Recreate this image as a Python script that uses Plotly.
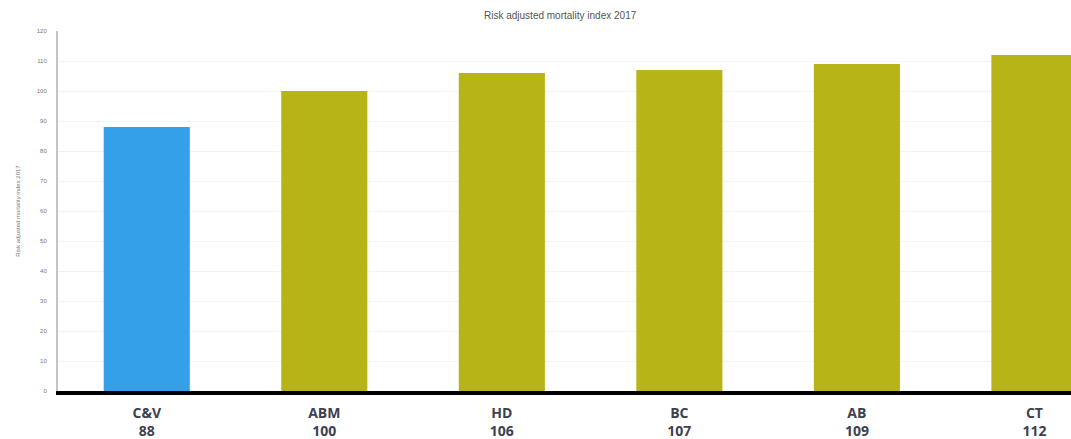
import plotly.graph_objects as go

categories = ["C&V", "ABM", "HD", "BC", "AB", "CT"]
values = [88, 100, 106, 107, 109, 112]
colors = ["#34a0ea", "#b6b416", "#b6b416", "#b6b416", "#b6b416", "#b6b416"]
y_ticks = list(range(0, 121, 10))

ticktext = [f"<b>{c}<br>{v}</b>" for c, v in zip(categories, values)]

fig = go.Figure(go.Bar(
    x=list(range(len(categories))),
    y=values,
    marker=dict(color=colors, line=dict(width=0)),
    width=0.485,
))

fig.update_layout(
    width=1071, height=439,
    margin=dict(l=58, r=0, t=31, b=48),
    paper_bgcolor="white", plot_bgcolor="white",
    showlegend=False,
    title=dict(text="Risk adjusted mortality index 2017", x=0.523, xanchor="center",
               y=0.965, yanchor="middle",
               font=dict(family="Liberation Sans, Arial", size=10, color="#555")),
    xaxis=dict(
        range=[-0.5, 5.206],
        tickmode="array", tickvals=list(range(len(categories))), ticktext=ticktext,
        tickfont=dict(family="Open Sans, Liberation Sans", size=14, color="#3d4150"),
        showline=True, linecolor="black", linewidth=4,
        showgrid=False, ticks="", zeroline=False, ticklabelstandoff=6,
    ),
    yaxis=dict(
        range=[0, 120], tickmode="array", tickvals=y_ticks,
        tickfont=dict(family="Liberation Sans, Arial", size=6, color="#777"),
        showgrid=True, gridcolor="#f3f3f3", gridwidth=1,
        showline=True, linecolor="#c4c4c4", linewidth=2,
        zeroline=False, ticks="", ticklabelstandoff=8,
        title=dict(text="Risk adjusted mortality index 2017",
                   font=dict(family="Liberation Sans, Arial", size=6, color="#777"),
                   standoff=16),
    ),
)

fig.write_html("out.html")
